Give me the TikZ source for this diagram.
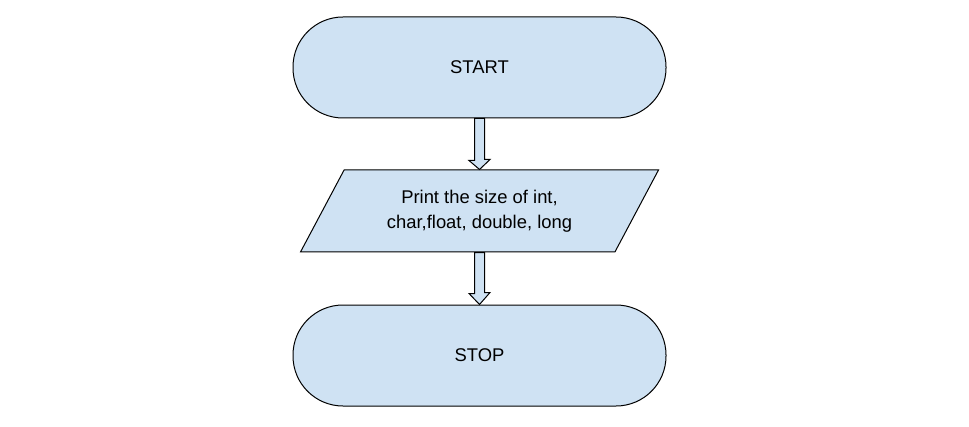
\documentclass[tikz,border=0pt]{standalone}
\usepackage{fontspec}
\setmainfont{Liberation Sans}
\usetikzlibrary{shapes.geometric}
\definecolor{boxblue}{HTML}{CFE2F3}
\begin{document}
\begin{tikzpicture}[x=0.75pt, y=-0.75pt,
  terminal/.style={shape=rectangle, rounded corners=37.5pt, draw=black, fill=boxblue, line width=0.75pt, minimum width=279.75pt, minimum height=75.75pt, font=\fontsize{13.8}{18.75}\selectfont},
  iobox/.style={shape=trapezium, trapezium left angle=49.5, trapezium right angle=130.5, trapezium stretches body, draw=black, fill=boxblue, line width=0.75pt, minimum width=268.5pt, minimum height=61.5pt, align=center, font=\fontsize{13.8}{18.75}\selectfont},
  blockarrow/.style={draw=black, fill=boxblue, line width=0.75pt, line join=miter}]
\useasboundingbox (0,0) rectangle (969,427);
\node[terminal] (start) at (479.5,67.5) {START};
\node[iobox] (print) at (479.5,211) {Print the size of int,\\char,float, double, long};
\node[terminal] (stop) at (479.5,355.5) {STOP};
\draw[blockarrow] ([xshift=-3.75pt]start.south) -- ++(0,42) -- ++(-5.5,0) -- (print.north) -- ++(10.5,-10) -- ++(-5.5,0) -- ([xshift=3.75pt]start.south) -- cycle;
\draw[blockarrow] ([xshift=-3.75pt]print.south) -- ++(0,41) -- ++(-5.5,0) -- (stop.north) -- ++(10.5,-12) -- ++(-5.5,0) -- ([xshift=3.75pt]print.south) -- cycle;
\end{tikzpicture}
\end{document}
